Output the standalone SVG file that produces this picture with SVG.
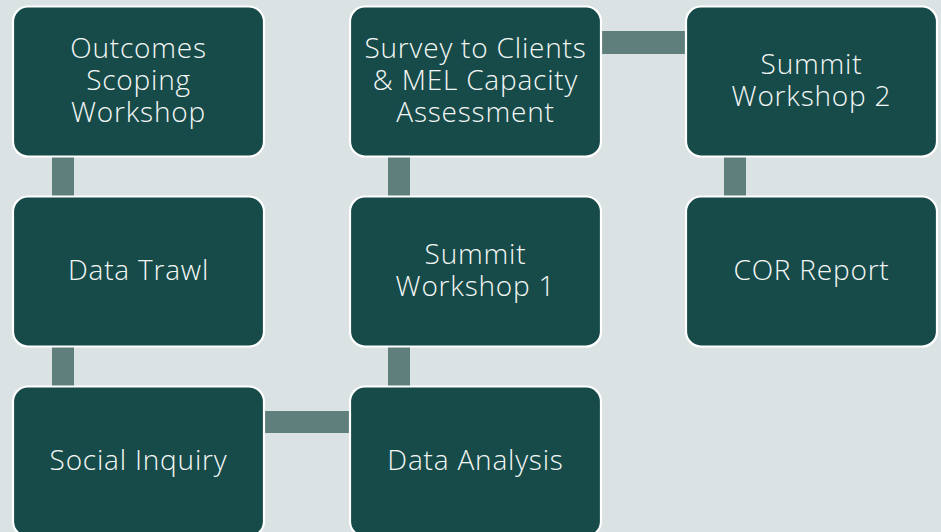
<svg xmlns="http://www.w3.org/2000/svg" width="941" height="532" viewBox="0 0 941 532">
  <style>
    .bg { fill: #dae2e3; }
    .box { fill: #174b49; stroke: #ffffff; stroke-width: 2.2; }
    .bar { fill: #5f7f7c; }
    .lbl { font-family: "Open Sans", Lato, "Liberation Sans", sans-serif; font-weight: 300; font-size: 28px; letter-spacing: 0.8px; fill: #f4f7f6; text-anchor: middle; }
  </style>
  <rect class="bg" x="0" y="0" width="941" height="532"/>

  <!-- connectors (drawn beneath the boxes) -->
  <g id="connectors">
    <rect class="bar" x="52" y="156" width="22" height="42"/>
    <rect class="bar" x="52" y="346" width="22" height="42"/>
    <rect class="bar" x="264" y="411" width="88" height="22"/>
    <rect class="bar" x="388" y="346" width="22" height="42"/>
    <rect class="bar" x="388" y="156" width="22" height="42"/>
    <rect class="bar" x="600" y="31" width="88" height="23"/>
    <rect class="bar" x="724" y="156" width="22" height="42"/>
  </g>

  <g id="outcomes-scoping">
    <rect class="box" x="13" y="6.5" width="251" height="150" rx="15"/>
    <text class="lbl" x="138.5"><tspan x="138.5" y="58">Outcomes</tspan><tspan x="138.5" y="90">Scoping</tspan><tspan x="138.5" y="122">Workshop</tspan></text>
  </g>

  <g id="data-trawl">
    <rect class="box" x="13" y="196.5" width="251" height="150" rx="15"/>
    <text class="lbl" x="138.5" y="280">Data Trawl</text>
  </g>

  <g id="social-inquiry">
    <rect class="box" x="13" y="386.5" width="251" height="150" rx="15"/>
    <text class="lbl" x="138.5" y="470">Social Inquiry</text>
  </g>

  <g id="data-analysis">
    <rect class="box" x="350" y="386.5" width="251" height="150" rx="15"/>
    <text class="lbl" x="475.5" y="470">Data Analysis</text>
  </g>

  <g id="summit-workshop-1">
    <rect class="box" x="350" y="196.5" width="251" height="150" rx="15"/>
    <text class="lbl" x="475.5"><tspan x="475.5" y="264">Summit</tspan><tspan x="475.5" y="296">Workshop 1</tspan></text>
  </g>

  <g id="survey-mel">
    <rect class="box" x="350" y="6.5" width="251" height="150" rx="15"/>
    <text class="lbl" x="475.5"><tspan x="475.5" y="58">Survey to Clients</tspan><tspan x="475.5" y="90">&amp; MEL Capacity</tspan><tspan x="475.5" y="122">Assessment</tspan></text>
  </g>

  <g id="summit-workshop-2">
    <rect class="box" x="686" y="6.5" width="251" height="150" rx="15"/>
    <text class="lbl" x="811.5"><tspan x="811.5" y="74">Summit</tspan><tspan x="811.5" y="106">Workshop 2</tspan></text>
  </g>

  <g id="cor-report">
    <rect class="box" x="686" y="196.5" width="251" height="150" rx="15"/>
    <text class="lbl" x="811.5" y="280">COR Report</text>
  </g>
</svg>
